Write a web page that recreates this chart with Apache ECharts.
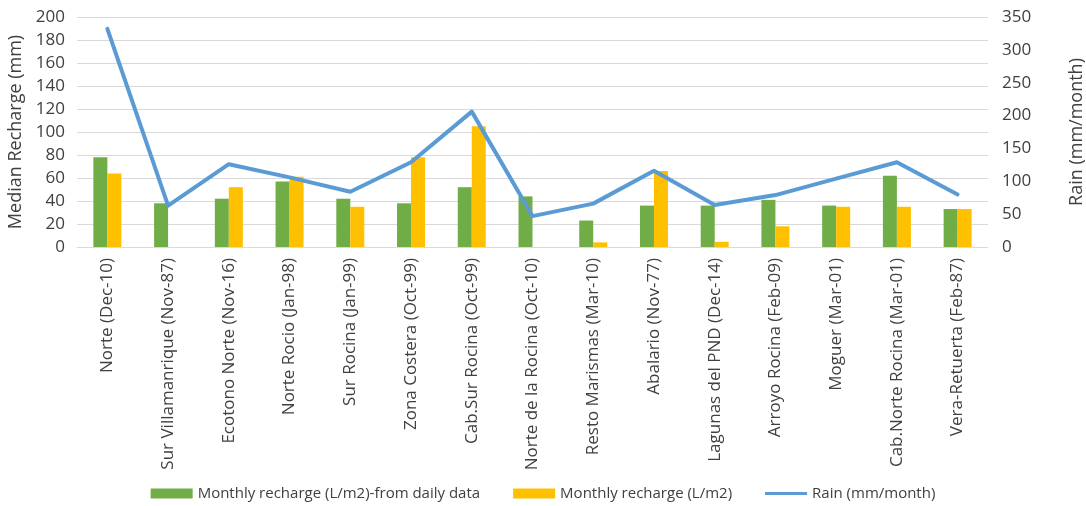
<!DOCTYPE html>
<html>
<head>
<meta charset="utf-8">
<script src="https://cdn.jsdelivr.net/npm/echarts@6/dist/echarts.min.js"></script>
<style>
  html, body { margin: 0; padding: 0; background: #ffffff; }
  #chart { width: 1086px; height: 506px; }
</style>
</head>
<body>
<div id="chart"></div>
<script>
// Sites (with date of the selected month)
const categories = [
  'Norte (Dec-10)', 'Sur Villamanrique (Nov-87)', 'Ecotono Norte (Nov-16)',
  'Norte Rocio (Jan-98)', 'Sur Rocina (Jan-99)', 'Zona Costera (Oct-99)',
  'Cab.Sur Rocina (Oct-99)', 'Norte de la Rocina (Oct-10)', 'Resto Marismas (Mar-10)',
  'Abalario (Nov-77)', 'Lagunas del PND (Dec-14)', 'Arroyo Rocina (Feb-09)',
  'Moguer (Mar-01)', 'Cab.Norte Rocina (Mar-01)', 'Vera-Retuerta (Feb-87)'
];

// Monthly recharge computed from daily data (L/m2)
const rechargeDaily = [78, 38, 42, 57, 42, 38, 52, 44, 23, 36, 36, 41, 36, 62, 33];

// Monthly recharge (L/m2); null where no value is available
const rechargeMonthly = [64, null, 52, 61, 35, 78, 105, null, 4, 66, 4.5, 18, 35, 35, 33];

// Rain (mm/month)
const rain = [332, 63, 126, 106, 84, 129, 206, 47, 66, 116, 64, 79, 104, 129, 80];

const leftTicks = { min: 0, max: 200, interval: 20 };
const rightTicks = { min: 0, max: 350, interval: 50 };

const FONT = '"Open Sans", "Noto Sans", sans-serif';
const TEXT = '#404040';

// Thin horizontal bar centred in a 42x10 box (tiny corner marks fix the box size)
const LINE_ICON = 'path://M0,0L0.01,0L0,0.01Z M0,3.5L42,3.5L42,6.5L0,6.5Z M42,10L41.99,10L42,9.99Z';

const chart = echarts.init(document.getElementById('chart'), null, { renderer: 'canvas' });

chart.setOption({
  backgroundColor: '#ffffff',
  animation: false,
  textStyle: { fontFamily: FONT },
  grid: {
    left: 77, right: 98, top: 17, bottom: 259,
    containLabel: false,
    outerBoundsMode: 'none'
  },
  legend: {
    bottom: 0,
    left: 'center',
    itemWidth: 42,
    itemHeight: 10,
    itemGap: 33,
    textStyle: { fontFamily: FONT, fontSize: 15, color: TEXT },
    data: [
      { name: 'Monthly recharge (L/m2)-from daily data', icon: 'rect' },
      { name: 'Monthly recharge (L/m2)', icon: 'rect' },
      { name: 'Rain (mm/month)', icon: LINE_ICON }
    ]
  },
  xAxis: {
    type: 'category',
    data: categories,
    axisLine: { show: true, lineStyle: { color: '#d9d9d9', width: 1 } },
    axisTick: { show: false },
    axisLabel: {
      interval: 0,
      rotate: 90,
      margin: 11,
      fontFamily: FONT,
      fontSize: 17,
      color: TEXT
    }
  },
  yAxis: [
    {
      type: 'value',
      min: leftTicks.min,
      max: leftTicks.max,
      interval: leftTicks.interval,
      name: 'Median Recharge (mm)',
      nameLocation: 'middle',
      nameGap: 47,
      nameTextStyle: { fontFamily: FONT, fontSize: 18, color: TEXT },
      axisLine: { show: false },
      axisTick: { show: false },
      axisLabel: { fontFamily: FONT, fontSize: 17, color: TEXT, margin: 12 },
      splitLine: { show: true, lineStyle: { color: '#d9d9d9', width: 1 } }
    },
    {
      type: 'value',
      min: rightTicks.min,
      max: rightTicks.max,
      interval: rightTicks.interval,
      name: 'Rain (mm/month)',
      nameLocation: 'middle',
      nameGap: 80,
      nameRotate: 90,
      nameTextStyle: { fontFamily: FONT, fontSize: 18, color: TEXT },
      axisLine: { show: false },
      axisTick: { show: false },
      axisLabel: { fontFamily: FONT, fontSize: 17, color: TEXT, margin: 14 },
      splitLine: { show: false }
    }
  ],
  series: [
    {
      name: 'Monthly recharge (L/m2)-from daily data',
      type: 'bar',
      yAxisIndex: 0,
      data: rechargeDaily,
      barWidth: 14,
      barGap: '0%',
      itemStyle: { color: '#70AD47' }
    },
    {
      name: 'Monthly recharge (L/m2)',
      type: 'bar',
      yAxisIndex: 0,
      data: rechargeMonthly,
      barWidth: 14,
      barGap: '0%',
      itemStyle: { color: '#FFC000' }
    },
    {
      name: 'Rain (mm/month)',
      type: 'line',
      yAxisIndex: 1,
      data: rain,
      symbol: 'none',
      lineStyle: { color: '#5B9BD5', width: 4, join: 'round', cap: 'round' },
      itemStyle: { color: '#5B9BD5' },
      z: 5
    }
  ]
});
</script>
</body>
</html>
